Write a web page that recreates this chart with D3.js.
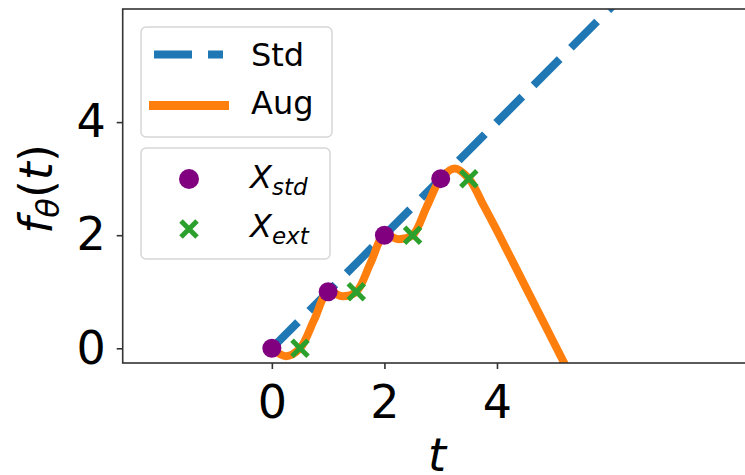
<!DOCTYPE html>
<html>
<head>
<meta charset="utf-8">
<script src="https://cdn.jsdelivr.net/npm/d3@7"></script>
<style>
  body { margin: 0; background: #fff; }
  svg { display: block; font-family: "DejaVu Sans", sans-serif; }
</style>
</head>
<body>
<div class="chart"></div>
<script>
// tick labels
var xTicks = [0, 2, 4];
var yTicks = [0, 2, 4];

// Std model: straight line
var stdT = [0, 7];
var stdF = [0, 7];

// Aug model: curve
var augT = [0, 0.25, 0.5, 0.75, 1, 1.25, 1.5, 1.75, 2, 2.25, 2.5, 2.75, 3, 3.25, 3.5, 3.75, 4, 4.5, 5, 5.5];
var augF = [0, -0.14, 0, 0.5, 1, 0.92, 1, 1.5, 2, 1.93, 2, 2.5, 3, 3.18, 3, 2.55, 2.08, 1.1, 0.12, -0.86];

// observation points
var xStdT = [0, 1, 2, 3];
var xStdF = [0, 1, 2, 3];
var xExtT = [0.5, 1.5, 2.5, 3.5];
var xExtF = [0, 1, 2, 3];

(function() {
var W = 745, H = 475;
var pL = 122.7, pT = 9, pB = 363, pR = 760;

var svg = d3.select('.chart').append('svg')
  .attr('width', W).attr('height', H);

var x = d3.scaleLinear().domain([-2.65, (pR - 271.7) / 56.3]).range([pL, pR]);
var y = d3.scaleLinear().domain([-0.26, 6.0]).range([pB, pT]);

svg.append('clipPath').attr('id', 'plotclip')
  .append('rect')
  .attr('x', pL).attr('y', pT)
  .attr('width', pR - pL).attr('height', pB - pT);

var plot = svg.append('g').attr('clip-path', 'url(#plotclip)');

var line = d3.line()
  .x(function(d) { return x(d[0]); })
  .y(function(d) { return y(d[1]); });

// Std dashed line
plot.append('path')
  .datum(d3.zip(stdT, stdF))
  .attr('d', line)
  .attr('fill', 'none')
  .attr('stroke', '#1f77b4')
  .attr('stroke-width', 8)
  .attr('stroke-dasharray', '37,16');

// Aug curve
plot.append('path')
  .datum(d3.zip(augT, augF))
  .attr('d', line.curve(d3.curveCatmullRom.alpha(0.5)))
  .attr('fill', 'none')
  .attr('stroke', '#ff7f0e')
  .attr('stroke-width', 8)
  .attr('stroke-linejoin', 'round');

// X_std dots
plot.selectAll('circle.xstd')
  .data(d3.zip(xStdT, xStdF))
  .enter().append('circle')
  .attr('class', 'xstd')
  .attr('cx', function(d) { return x(d[0]); })
  .attr('cy', function(d) { return y(d[1]); })
  .attr('r', 9.5)
  .attr('fill', '#800080');

// X_ext crosses
var cross = 'M-8,-8L8,8M-8,8L8,-8';
plot.selectAll('path.xext')
  .data(d3.zip(xExtT, xExtF))
  .enter().append('path')
  .attr('class', 'xext')
  .attr('transform', function(d) { return 'translate(' + x(d[0]) + ',' + y(d[1]) + ')'; })
  .attr('d', cross)
  .attr('stroke', '#2ca02c')
  .attr('stroke-width', 5);

// frame
svg.append('rect')
  .attr('x', pL).attr('y', pT)
  .attr('width', pR - pL).attr('height', pB - pT)
  .attr('fill', 'none')
  .attr('stroke', '#333')
  .attr('stroke-width', 1.6);

// axes
var xAxis = svg.append('g')
  .attr('transform', 'translate(0,' + pB + ')')
  .call(d3.axisBottom(x).tickValues(xTicks).tickFormat(d3.format('d')).tickSize(6).tickPadding(16));
var yAxis = svg.append('g')
  .attr('transform', 'translate(' + pL + ',0)')
  .call(d3.axisLeft(y).tickValues(yTicks).tickFormat(d3.format('d')).tickSize(6).tickPadding(11));

[xAxis, yAxis].forEach(function(a) {
  a.select('.domain').remove();
  a.selectAll('line').attr('stroke', '#333').attr('stroke-width', 1.6);
  a.selectAll('text')
    .attr('fill', '#000')
    .style('font-family', '"DejaVu Sans", sans-serif')
    .style('font-size', '46px');
});

// axis labels
svg.append('text')
  .attr('x', 437).attr('y', 471)
  .attr('text-anchor', 'middle')
  .style('font-size', '46px')
  .style('font-style', 'italic')
  .text('t');

var ylab = svg.append('text')
  .attr('transform', 'translate(52,189) rotate(-90)')
  .attr('text-anchor', 'middle')
  .style('font-size', '46px');
ylab.append('tspan').style('font-style', 'italic').text('f');
ylab.append('tspan').style('font-style', 'italic').style('font-size', '32px').attr('dy', 7).text('θ');
ylab.append('tspan').attr('dy', -7).text('(');
ylab.append('tspan').style('font-style', 'italic').text('t');
ylab.append('tspan').text(')');

// legend boxes
function box(x0, y0, x1, y1) {
  svg.append('rect')
    .attr('x', x0).attr('y', y0)
    .attr('width', x1 - x0).attr('height', y1 - y0)
    .attr('rx', 5).attr('ry', 5)
    .attr('fill', '#fff').attr('fill-opacity', 0.8)
    .attr('stroke', '#d6d6d6').attr('stroke-width', 1.5);
}
box(141, 27, 332, 137);
box(141, 148, 330, 259);

var lg = svg.append('g').style('font-size', '32px');

lg.append('line')
  .attr('x1', 154).attr('x2', 223).attr('y1', 54.5).attr('y2', 54.5)
  .attr('stroke', '#1f77b4').attr('stroke-width', 8)
  .attr('stroke-dasharray', '38,16');
lg.append('text').attr('x', 251).attr('y', 66).text('Std');

lg.append('line')
  .attr('x1', 149).attr('x2', 229).attr('y1', 105.5).attr('y2', 105.5)
  .attr('stroke', '#ff7f0e').attr('stroke-width', 9);
lg.append('text').attr('x', 251).attr('y', 114).text('Aug');

lg.append('circle').attr('cx', 189).attr('cy', 179).attr('r', 10).attr('fill', '#800080');
var t1 = lg.append('text').attr('x', 250).attr('y', 188);
t1.append('tspan').style('font-style', 'italic').text('X');
t1.append('tspan').style('font-style', 'italic').style('font-size', '23px').attr('dy', 7).text('std');

lg.append('path')
  .attr('transform', 'translate(189,229)')
  .attr('d', cross)
  .attr('stroke', '#2ca02c').attr('stroke-width', 5);
var t2 = lg.append('text').attr('x', 250).attr('y', 237);
t2.append('tspan').style('font-style', 'italic').text('X');
t2.append('tspan').style('font-style', 'italic').style('font-size', '23px').attr('dy', 7).text('ext');
})();
</script>
</body>
</html>
